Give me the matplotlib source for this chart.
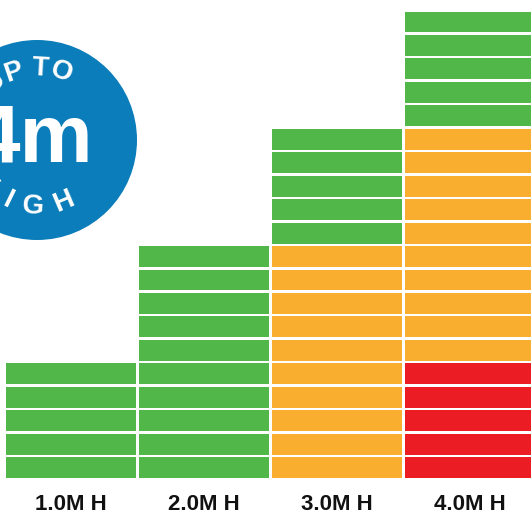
import numpy as np
import matplotlib.pyplot as plt
from matplotlib.patches import Circle

labels = ["1.0M H", "2.0M H", "3.0M H", "4.0M H"]
green_rows = [5, 10, 5, 5]
orange_rows = [0, 0, 10, 10]
red_rows = [0, 0, 0, 5]

GREEN = "#50B748"
ORANGE = "#F9AE30"
RED = "#EC1C24"
BLUE = "#0B7DBA"

plt.rcParams['font.family'] = ['Liberation Sans', 'DejaVu Sans']

fig = plt.figure(figsize=(5.31, 5.15), dpi=100)
ax = fig.add_axes([0, 0, 1, 1])

# column pitch 133px, row pitch 23.45px, baseline at y=478px
x0, px = 71, 133
y0, py = 478, 23.45
ax.set_xlim(-x0 / px, (531 - x0) / px)
ax.set_ylim((y0 - 515) / py, y0 / py)
ax.axis('off')

# stack red -> orange -> green, one bar per block
for i in range(len(labels)):
    colors = [RED] * red_rows[i] + [ORANGE] * orange_rows[i] + [GREEN] * green_rows[i]
    for k, c in enumerate(colors):
        ax.bar(i, 0.89, bottom=k, width=130 / px, color=c, linewidth=0)
    ax.text(i, (y0 - 504) / py, labels[i], ha='center', va='center',
            fontsize=16, fontweight='bold', color='#111111')

# badge in pixel coordinates
bx = fig.add_axes([0, 0, 1, 1])
bx.set_xlim(0, 531)
bx.set_ylim(515, 0)
bx.axis('off')
cx, cy, r = 37, 140, 100
bx.add_patch(Circle((cx, cy), r, color=BLUE, linewidth=0))
bx.text(34, 162, "4m", ha='center', va='baseline', fontsize=59,
        fontweight='bold', color='white')

top_letters = ["U", "P", "T", "O"]
top_angles = [127, 109, 87, 70]
for ch, a in zip(top_letters, top_angles):
    t = np.radians(a)
    bx.text(cx + 72 * np.cos(t), cy - 72 * np.sin(t), ch, ha='center', va='center',
            rotation=a - 90, rotation_mode='anchor', fontsize=20,
            fontweight='bold', color='white')

bot_letters = ["H", "I", "G", "H"]
bot_angles = [-141, -116, -93, -67]
for ch, a in zip(bot_letters, bot_angles):
    t = np.radians(a)
    bx.text(cx + 67 * np.cos(t), cy - 67 * np.sin(t), ch, ha='center', va='center',
            rotation=a + 90, rotation_mode='anchor', fontsize=20,
            fontweight='bold', color='white')

fig.savefig("out.png", dpi=100)
